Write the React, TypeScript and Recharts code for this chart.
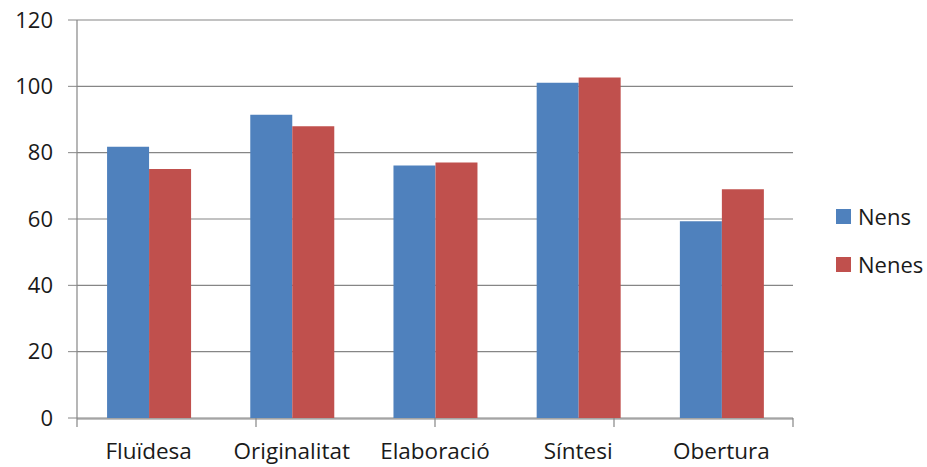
import React from "react";
import { BarChart, Bar, XAxis, YAxis, CartesianGrid, Legend } from "recharts";

const categories = ["Fluïdesa", "Originalitat", "Elaboració", "Síntesi", "Obertura"];
const nens = [81.8, 91.4, 76.1, 101.1, 59.3];
const nenes = [75.1, 88.0, 77.0, 102.7, 69.0];
const yTicks = [0, 20, 40, 60, 80, 100, 120];
const boundaryTicks = [0, 1, 2, 3, 4, 5];
const seriesNames = ["Nens", "Nenes"];
const seriesColors = ["#4F81BD", "#C0504D"];

const data = categories.map((c, i) => ({ name: c, Nens: nens[i], Nenes: nenes[i] }));

const FONT = "'Open Sans', Lato, sans-serif";
const GRID = "#868686";

const LegendContent = () => (
  <div style={{ fontFamily: FONT, fontSize: 22, color: "#1a1a1a" }}>
    {seriesNames.map((n, i) => (
      <div key={n} style={{ display: "flex", alignItems: "center", height: 48 }}>
        <div style={{ width: 15, height: 15, background: seriesColors[i], marginRight: 7 }} />
        <span style={{ lineHeight: "22px" }}>{n}</span>
      </div>
    ))}
  </div>
);

const EmptyTick = () => <g />;

export default function App() {
  return (
    <div style={{ position: "absolute", left: 0, top: 0 }}>
      <BarChart
        width={927}
        height={467}
        data={data}
        margin={{ top: 20, right: 134, bottom: 0, left: 0 }}
        barCategoryGap="21%"
        barGap={0}
      >
        <CartesianGrid horizontal vertical={false} stroke={GRID} strokeWidth={1.2} xAxisId="cat" />
        <XAxis
          xAxisId="bounds"
          type="number"
          domain={[0, 5]}
          ticks={boundaryTicks}
          tick={<EmptyTick />}
          tickLine={{ stroke: GRID, strokeWidth: 1.2 }}
          tickSize={9}
          axisLine={false}
          height={1}
          interval={0}
          allowDataOverflow
        />
        <XAxis
          xAxisId="cat"
          dataKey="name"
          tickLine={false}
          tickSize={0}
          tickMargin={24}
          axisLine={{ stroke: GRID, strokeWidth: 1.2 }}
          height={48}
          interval={0}
          tick={{ fill: "#1a1a1a", fontSize: 22.5, fontFamily: FONT }}
        />
        <YAxis
          domain={[0, 120]}
          ticks={yTicks}
          width={77}
          tickSize={9}
          tickMargin={15}
          axisLine={{ stroke: GRID, strokeWidth: 1.2 }}
          tickLine={{ stroke: GRID }}
          tick={{ fill: "#1a1a1a", fontSize: 22, fontFamily: FONT }}
        />
        <Legend
          layout="vertical"
          align="center"
          verticalAlign="middle"
          content={<LegendContent />}
          wrapperStyle={{ position: "absolute", left: 836, top: 192, width: 100, height: 100 }}
        />
        <Bar xAxisId="cat" dataKey="Nens" fill={seriesColors[0]} isAnimationActive={false} />
        <Bar xAxisId="cat" dataKey="Nenes" fill={seriesColors[1]} isAnimationActive={false} />
      </BarChart>
    </div>
  );
}
